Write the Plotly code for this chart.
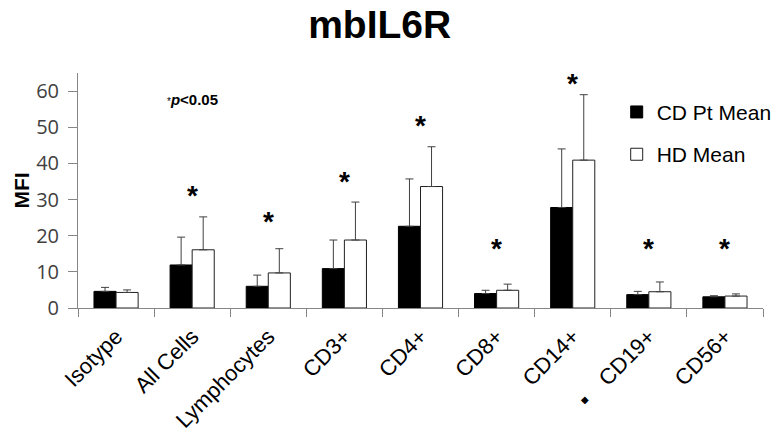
import plotly.graph_objects as go

categories = ["Isotype", "All Cells", "Lymphocytes", "CD3+", "CD4+", "CD8+", "CD14+", "CD19+", "CD56+"]
cd_mean = [4.6, 11.9, 6.0, 10.9, 22.6, 4.0, 27.8, 3.7, 3.1]
cd_err = [1.1, 7.7, 3.1, 7.9, 13.1, 0.9, 16.2, 0.9, 0.3]
hd_mean = [4.3, 16.1, 9.7, 18.8, 33.6, 4.9, 40.9, 4.5, 3.3]
hd_err = [0.7, 9.1, 6.7, 10.5, 11.0, 1.7, 18.1, 2.7, 0.6]
star_y = [None, 33.1, 26.0, 36.8, 52.4, 18.4, 63.9, 18.4, 18.4]

AX = "#868686"
ERR = "#404040"

fig = go.Figure()
fig.add_trace(go.Bar(
    x=categories, y=cd_mean, name="CD Pt Mean", legendgroup="a",
    marker=dict(color="black", line=dict(color="black", width=1)),
    error_y=dict(type="data", array=cd_err, arrayminus=[0] * len(cd_err),
                 symmetric=False, color=ERR, thickness=1, width=4),
))
fig.add_trace(go.Bar(
    x=categories, y=hd_mean, name="HD Mean", legendgroup="b",
    marker=dict(color="white", line=dict(color="#202020", width=1)),
    error_y=dict(type="data", array=hd_err, arrayminus=[0] * len(hd_err),
                 symmetric=False, color=ERR, thickness=1, width=4),
))

for cat, sy in zip(categories, star_y):
    if sy is None:
        continue
    fig.add_annotation(
        x=cat, y=sy, xref="x", yref="y", showarrow=False, text="<b>*</b>",
        yshift=-7, font=dict(family="Liberation Sans", size=28, color="black"),
    )

fig.add_annotation(
    x="All Cells", y=57.8, xref="x", yref="y", showarrow=False,
    text="<span style='font-size:10px'>*</span><b><i>p</i>&lt;0.05</b>",
    font=dict(family="Liberation Sans", size=15, color="black"),
)
fig.add_annotation(
    x=0.74, y=-0.39, xref="paper", yref="paper", xanchor="center", yanchor="middle",
    showarrow=False,
    text="◆", font=dict(family="DejaVu Sans", size=10, color="black"),
)

fig.update_layout(
    width=778, height=434,
    margin=dict(l=78, r=15, t=73, b=126, autoexpand=False),
    paper_bgcolor="white", plot_bgcolor="white",
    title=dict(text="<b>mbIL6R</b>", x=0.488, xanchor="center", y=0.975, yanchor="top",
               font=dict(family="Liberation Sans", size=39, color="black")),
    barmode="group", bargap=0.42, bargroupgap=0,
    legend=dict(x=1.02, xanchor="right", y=0.92, yanchor="top",
                font=dict(family="Liberation Sans", size=21, color="black"),
                traceorder="grouped", tracegroupgap=12, itemwidth=30,
                bgcolor="rgba(0,0,0,0)"),
    xaxis=dict(
        type="category", showline=True, linecolor=AX, linewidth=1, automargin=False,
        ticks="outside", tickson="boundaries", ticklen=8, tickcolor=AX,
        tickangle=-45, showgrid=False, ticklabelstandoff=6,
        tickfont=dict(family="Liberation Sans", size=22, color="black"),
    ),
    yaxis=dict(
        range=[0, 65], tickvals=[0, 10, 20, 30, 40, 50, 60], automargin=False,
        showline=True, linecolor=AX, linewidth=1, ticks="outside", ticklen=9, tickcolor=AX,
        ticklabelstandoff=5,
        showgrid=False, zeroline=False,
        tickfont=dict(family="Open Sans", size=20, color="#404040"),
        title=dict(text="<b>MFI</b>", standoff=0,
                   font=dict(family="Liberation Sans", size=21, color="black")),
    ),
)

fig.write_html("out.html", config={"displayModeBar": False},
               post_script="document.body.style.margin='0';")
